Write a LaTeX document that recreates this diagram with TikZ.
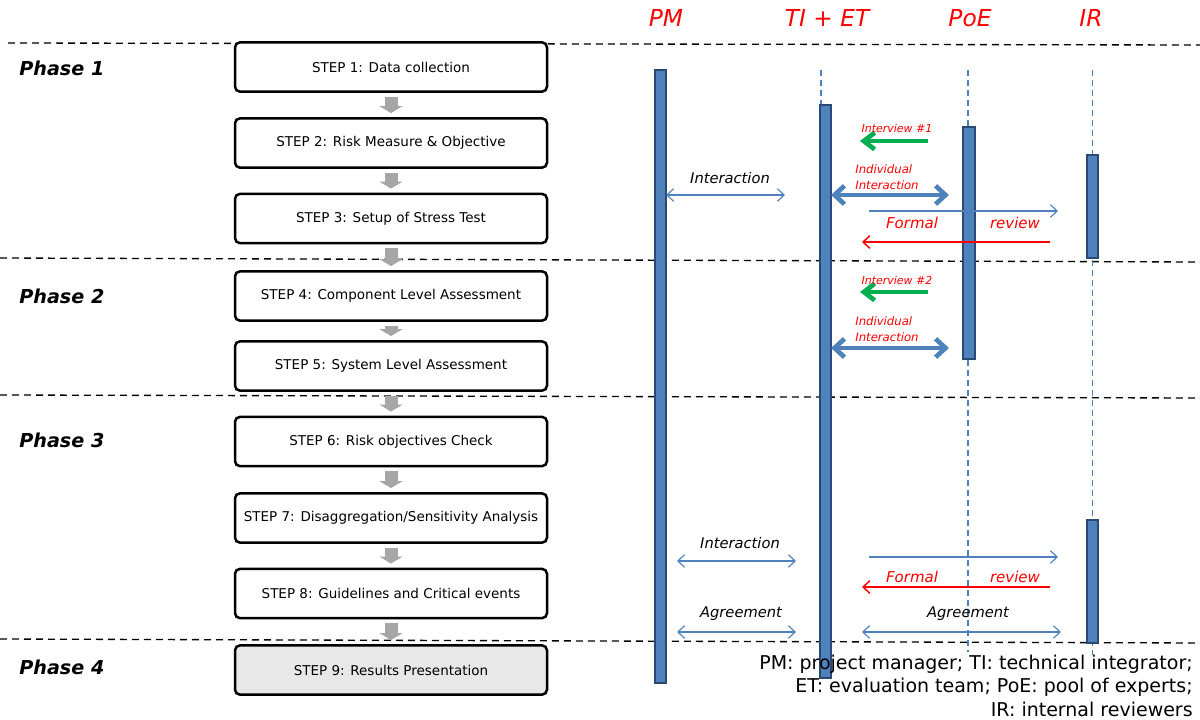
\documentclass[tikz,border=0pt]{standalone}
\usepackage{fontspec}
\setmainfont{DejaVu Sans}[ItalicFont={DejaVu Sans Oblique},BoldItalicFont={DejaVu Sans Bold Oblique}]
\usetikzlibrary{arrows.meta,calc}
\definecolor{seqblue}{HTML}{4F81BD}
\definecolor{bardark}{HTML}{2A4A73}
\definecolor{stepgray}{HTML}{A6A6A6}
\definecolor{lightfill}{HTML}{E8E8E8}
\definecolor{okgreen}{HTML}{00B050}
\begin{document}
\begin{tikzpicture}[x=0.6pt,y=-0.6pt,
  stepbox/.style={draw=black, line width=1.5pt, rounded corners=3pt, fill=white,
    minimum width=187.2pt, minimum height=29.6pt, inner sep=0pt,
    font=\fontsize{8.1}{10}\selectfont},
  phase/.style={anchor=west, inner sep=0pt, font=\fontsize{11.5}{14}\selectfont\bfseries\itshape},
  actor/.style={text=red, inner sep=0pt, font=\fontsize{14}{16}\selectfont\itshape},
  sep/.style={black, line width=0.8pt, dash pattern=on 4.2pt off 3pt},
  life/.style={seqblue, line width=0.7pt, dash pattern=on 3.6pt off 2.4pt},
  bar/.style={fill=seqblue, draw=bardark, line width=1.2pt},
  flow/.style={stepgray, line width=7.8pt, -{Triangle[length=4.2pt,width=13.8pt]}},
  thinmsg/.style={seqblue, line width=0.7pt,
    {Straight Barb[length=4pt,width=7.5pt]}-{Straight Barb[length=4pt,width=7.5pt]}},
  onemsg/.style={seqblue, line width=0.7pt, -{Straight Barb[length=4pt,width=7.5pt]}},
  thickmsg/.style={seqblue, line width=2.8pt,
    {Straight Barb[length=6pt,width=11pt]}-{Straight Barb[length=6pt,width=11pt]}},
  greenmsg/.style={okgreen, line width=2.8pt, -{Straight Barb[length=6.5pt,width=10pt]}},
  redmsg/.style={red, line width=0.9pt, -{Straight Barb[length=4pt,width=7.5pt]}},
  lbl/.style={inner sep=0pt, font=\fontsize{8.8}{10}\selectfont\itshape},
  redlbl/.style={inner sep=0pt, text=red, font=\fontsize{9}{10}\selectfont\itshape},
  smalllbl/.style={inner sep=0pt, text=red, font=\fontsize{6.6}{8}\selectfont\itshape},
  indlbl/.style={inner sep=0pt, text=red, anchor=west, align=left, font=\fontsize{7}{9.6}\selectfont\itshape},
]
\useasboundingbox (0,0) rectangle (1200,720);

% phase separators
\draw[sep] (8,43) -- (1200,45);
\draw[sep] (0,258) -- (1200,262);
\draw[sep] (0,395) -- (1200,398);
\draw[sep] (0,639) -- (1200,643);

% phase labels
\node[phase] (p1) at (19,68) {Phase 1};
\node[phase] (p2) at (19,296) {Phase 2};
\node[phase] (p3) at (19,440) {Phase 3};
\node[phase] (p4) at (19,667) {Phase 4};

% process steps
\node[stepbox] (s1) at (391,67) {STEP 1: Data collection};
\node[stepbox] (s2) at (391,143) {STEP 2: Risk Measure \& Objective};
\node[stepbox] (s3) at (391,218.5) {STEP 3: Setup of Stress Test};
\node[stepbox] (s4) at (391,296) {STEP 4: Component Level Assessment};
\node[stepbox] (s5) at (391,366) {STEP 5: System Level Assessment};
\node[stepbox] (s6) at (391,441.5) {STEP 6: Risk objectives Check};
\node[stepbox] (s7) at (391,518) {STEP 7: Disaggregation/Sensitivity Analysis};
\node[stepbox] (s8) at (391,593.5) {STEP 8: Guidelines and Critical events};
\node[stepbox, fill=lightfill] (s9) at (391,670) {STEP 9: Results Presentation};

\foreach \a/\b in {s1/s2,s2/s3,s3/s4,s4/s5,s5/s6,s6/s7,s7/s8,s8/s9}
  \draw[flow] ($(\a.south)+(0,4)$) -- ($(\b.north)+(0,-4)$);

% actors
\node[actor] (pm) at (666,18) {PM};
\node[actor] (ti) at (827,18) {TI + ET};
\node[actor] (poe) at (970,18) {PoE};
\node[actor] (ir) at (1091,18) {IR};

% lifelines
\draw[life] (660.5,70) -- (660.5,683);
\draw[life] (821,70) -- (821,680);
\draw[life] (968,70) -- (968,652);
\draw[life] (1092.5,70) -- (1092.5,655);

% activation bars
\draw[bar] (655,70) rectangle (666,683);
\draw[bar] (819.5,105) rectangle (831,678);
\draw[bar] (963,127) rectangle (974.5,359);
\draw[bar] (1087,155) rectangle (1098,258);
\draw[bar] (1087,520) rectangle (1098,643);

% message end points
\coordinate (ia1) at (666,195);   \coordinate (ib1) at (785,195);
\coordinate (da1) at (831,195);   \coordinate (db1) at (949,195);
\coordinate (ga1) at (928,141);   \coordinate (gb1) at (860,141);
\coordinate (ra1) at (869,211);   \coordinate (rb1) at (1058,211);
\coordinate (fa1) at (1050,242);  \coordinate (fb1) at (862,242);
\coordinate (ga2) at (928,292);   \coordinate (gb2) at (860,292);
\coordinate (da2) at (831,348);   \coordinate (db2) at (949,348);
\coordinate (ia2) at (677,561);   \coordinate (ib2) at (796,561);
\coordinate (ra2) at (869,557);   \coordinate (rb2) at (1058,557);
\coordinate (fa2) at (1050,587);  \coordinate (fb2) at (862,587);
\coordinate (aa1) at (677,632);   \coordinate (ab1) at (796,632);
\coordinate (aa2) at (862,632);   \coordinate (ab2) at (1061,632);

% phase 1 and 2 messages
\draw[greenmsg] (ga1) -- (gb1);
\node[smalllbl] (t1) at (897,128) {Interview \#1};
\draw[thinmsg] (ia1) -- (ib1);
\node[lbl] (t2) at (730,178) {Interaction};
\draw[thickmsg] (da1) -- (db1);
\node[indlbl] (t3) at (855,177) {Individual\\Interaction};
\draw[onemsg] (ra1) -- (rb1);
\node[redlbl] (t4) at (912,223) {Formal};
\node[redlbl] (t5) at (1015,223) {review};
\draw[redmsg] (fa1) -- (fb1);
\draw[greenmsg] (ga2) -- (gb2);
\node[smalllbl] (t6) at (897,280) {Interview \#2};
\draw[thickmsg] (da2) -- (db2);
\node[indlbl] (t7) at (855,329) {Individual\\Interaction};

% phase 3 messages
\draw[thinmsg] (ia2) -- (ib2);
\node[lbl] (t8) at (740,543) {Interaction};
\draw[onemsg] (ra2) -- (rb2);
\node[redlbl] (t9) at (912,577) {Formal};
\node[redlbl] (t10) at (1015,577) {review};
\draw[redmsg] (fa2) -- (fb2);
\draw[thinmsg] (aa1) -- (ab1);
\node[lbl] (t11) at (741,614) {Agreement};
\draw[thinmsg] (aa2) -- (ab2);
\node[lbl] (t12) at (968,614) {Agreement};

% legend (anchored on the baseline of its last line)
\node[anchor=base east, align=right, inner sep=0pt,
  font=\fontsize{11.4}{14.1}\selectfont] (legend) at (1193,716)
  {PM: project manager; TI: technical integrator;\\
   ET: evaluation team; PoE: pool of experts;\\
   IR: internal reviewers};
\end{tikzpicture}
\end{document}
